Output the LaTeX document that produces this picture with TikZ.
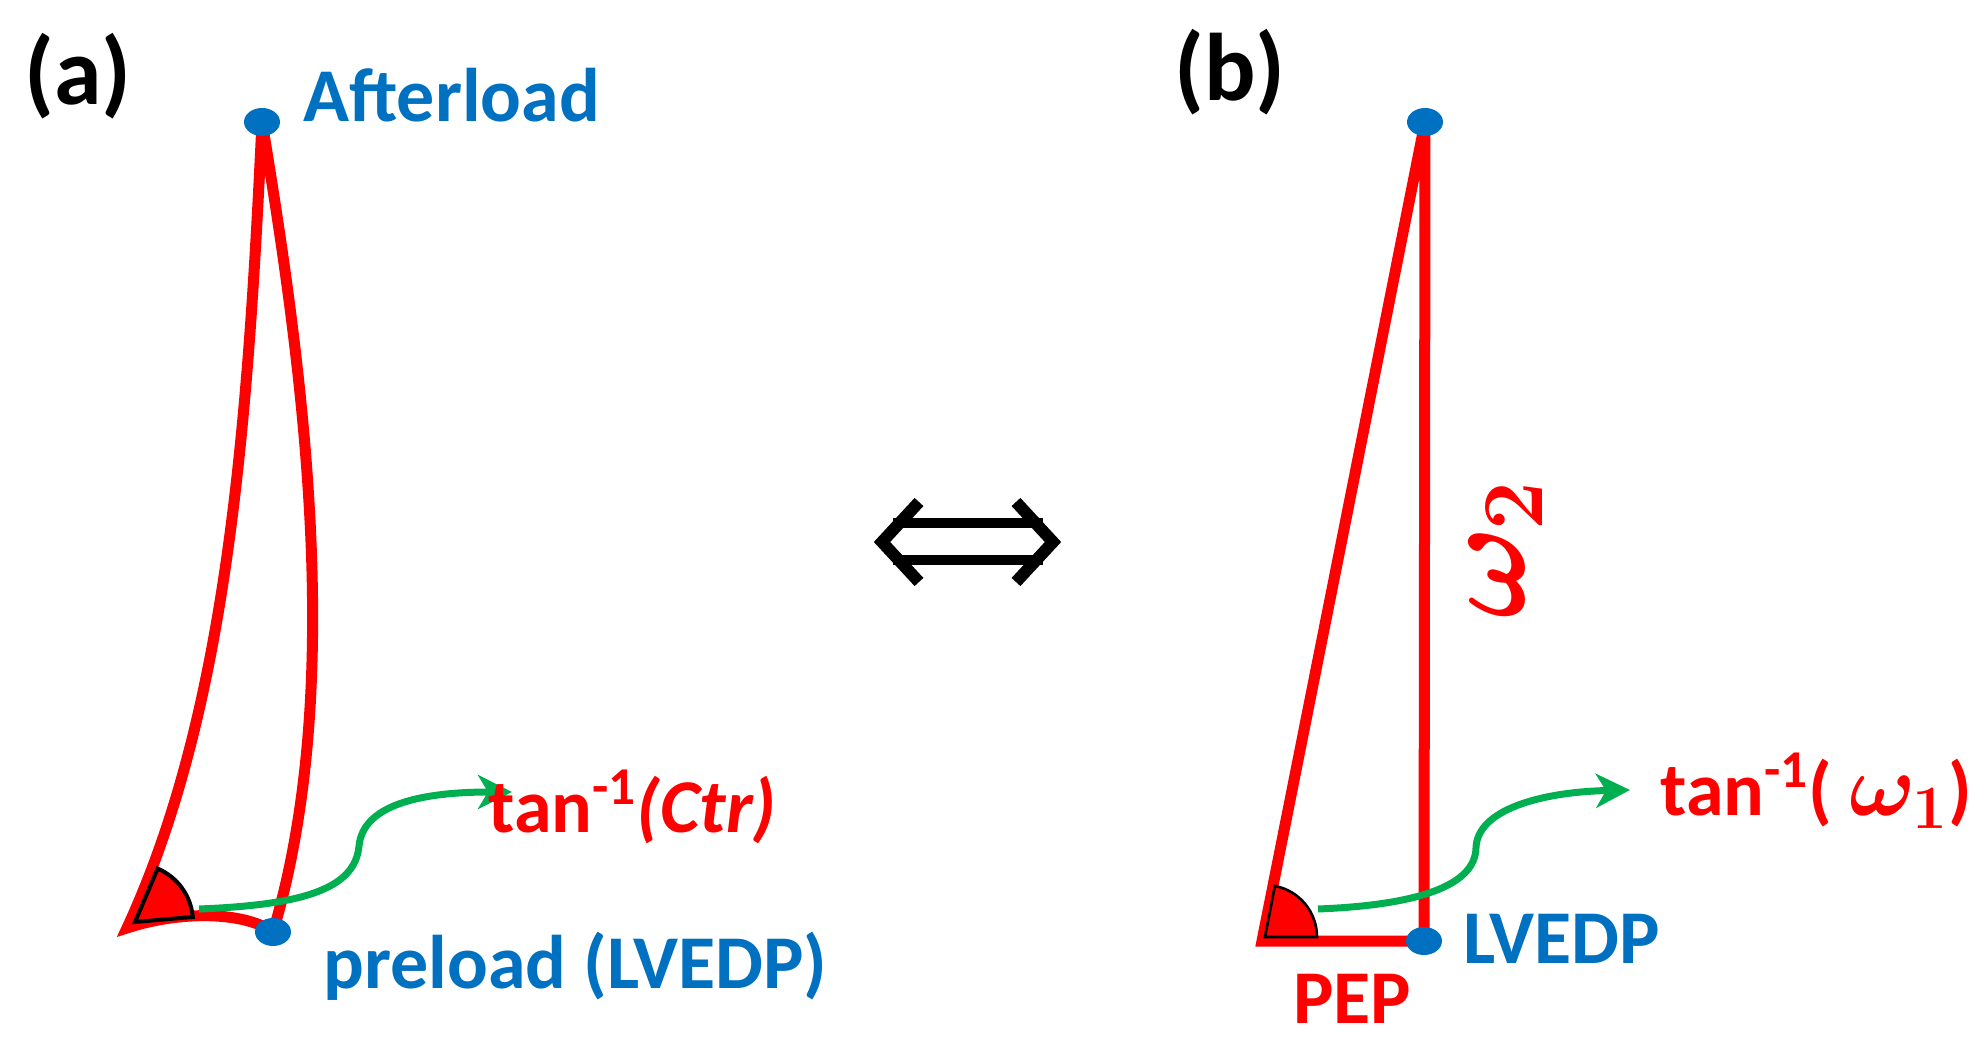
\RequirePackage{fix-cm}
\documentclass[tikz,border=0pt]{standalone}
\usepackage{fontspec}
\setmainfont{Carlito}
\usepackage{bm}
\usepackage{tikz}
\usetikzlibrary{arrows.meta,shapes.geometric}
\usepackage{color}
\definecolor{pvred}{RGB}{255,0,0}
\definecolor{ptblue}{RGB}{0,112,192}
\definecolor{tgreen}{RGB}{0,176,80}

\begin{document}
\begin{tikzpicture}[x=0.5pt,y=0.5pt,yscale=-1,xscale=1,
  loopline/.style={draw=pvred,line width=5.5pt,line cap=round,line join=round},
  angwedge/.style={fill=pvred,draw=black,line join=miter},
  flow/.style={draw=tgreen,line width=3.5pt,-{Stealth[length=17pt,width=17pt,inset=5pt]}},
  pt/.style={ellipse,fill=ptblue,inner sep=0pt,minimum width=18pt,minimum height=14pt},
  lbl/.style={inner sep=0pt,anchor=base west,font=\fontsize{38}{44}\selectfont\bfseries},
  eqv/.style={line width=5pt}]
\useasboundingbox (0,0) rectangle (1987,1053);

%Coordinates (a)
\coordinate (afterA) at (262,122);
\coordinate (preA) at (273,932);
\coordinate (cornerA) at (127,928);
\coordinate (wedgeA) at (135,922);
\coordinate (startA) at (199,909);
\coordinate (tipA) at (512,792);
%Coordinates (b)
\coordinate (topB) at (1425,122);
\coordinate (lvedpB) at (1424,941);
\coordinate (cornerB) at (1262,941);
\coordinate (wedgeB) at (1265,937);
\coordinate (startB) at (1318,909);
\coordinate (tipB) at (1630,790);

%Curve Lines
\draw [loopline,line join=miter] (afterA) .. controls (248,420) and (228,710) .. (cornerA) .. controls (182,910) and (245,912) .. (preA) ;
%Curve Lines
\draw [loopline] (afterA) .. controls (305,380) and (345,690) .. (preA) ;
%Shape: Sector
\draw [angwedge,line width=2pt] (wedgeA) -- ++(-67:58) arc (-67:-5:58) -- cycle ;
%Curve Lines
\draw [flow] (startA) .. controls (300,905) and (355,890) .. (359,846) .. controls (363,805) and (420,792) .. (tipA) ;

%Straight Lines
\draw [loopline,line join=miter] (cornerB) -- (lvedpB) -- (topB) -- cycle ;
%Shape: Sector
\draw [angwedge,line width=1.3pt] (wedgeB) -- ++(-79:52) arc (-79:0:52) -- cycle ;
%Curve Lines
\draw [flow] (startB) .. controls (1420,905) and (1475,885) .. (1476,848) .. controls (1477,810) and (1540,792) .. (tipB) ;

%Shape: Ellipse
\node [pt] (afterDot) at (afterA) {};
\node [pt] (preDot) at (preA) {};
\node [pt] (topDot) at (topB) {};
\node [pt] (lvedpDot) at (lvedpB) {};

%Double arrow
\draw [eqv] (893,523) -- (1043,523) ;
\draw [eqv] (893,560) -- (1043,560) ;
\draw [eqv,line width=6pt,line join=miter] (919,502) -- (882,542) -- (919,582) ;
\draw [eqv,line width=6pt,line join=miter] (1016,502) -- (1053,542) -- (1016,582) ;

% Text Node
\node [lbl,font=\fontsize{48}{56}\selectfont\bfseries] (labA) at (24,105) {(a)};
% Text Node
\node [lbl,font=\fontsize{48}{56}\selectfont\bfseries] (labB) at (1174,101) {(b)};
% Text Node
\node [lbl,text=ptblue] (afterTxt) at (303,122) {Afterload};
% Text Node
\node [lbl,text=ptblue] (preTxt) at (323,988) {preload (LVEDP)};
% Text Node
\node [lbl,text=pvred] (ctrTxt) at (488,832) {tan\textsuperscript{-1}\textit{(Ctr)}};
% Text Node
\node [lbl,text=ptblue] (lvedpTxt) at (1463,963) {LVEDP};
% Text Node
\node [lbl,text=pvred] (pepTxt) at (1293,1023) {PEP};
% Text Node
\node [lbl,text=pvred] (w1Txt) at (1660,815) {tan\textsuperscript{-1}( \mbox{\fontsize{44}{50}\selectfont$\bm{\omega_{1}}$})};
% Text Node
\node [text=pvred,inner sep=0pt,rotate=90,font=\fontsize{62}{70}\selectfont] (w2Txt) at (1506,550) {$\bm{\omega_{2}}$};
\end{tikzpicture}
\end{document}
